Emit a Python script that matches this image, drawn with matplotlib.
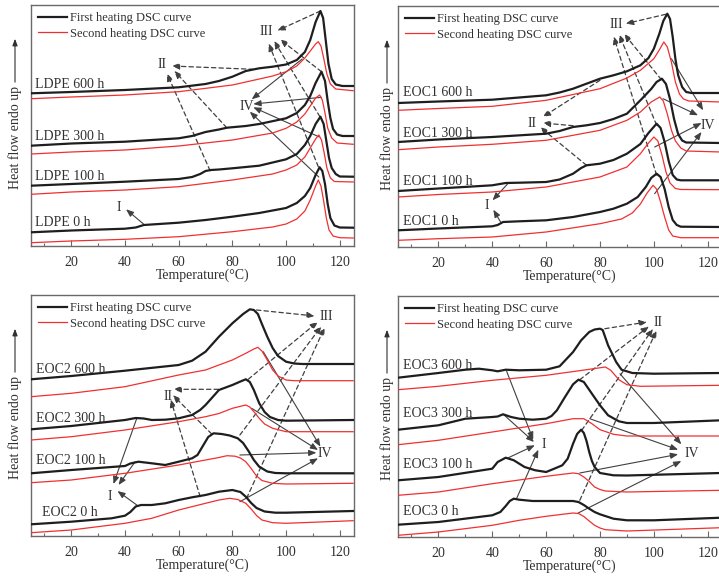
import matplotlib
matplotlib.use("Agg")
import matplotlib.pyplot as plt
from matplotlib.ticker import MultipleLocator

plt.rcParams['font.family'] = ['Liberation Serif', 'DejaVu Serif']

# ---------------- data (T in degC, heat flow in arbitrary units) ----------------
LDPE_0_FIRST = [(5,13.7),(20,15.5),(40,17.3),(44,18.5),(47,21),(60,23.3),(70,26),(80,29.3),(90,33),(100,38),(104,43),(107,50),(109,58),(111,71),(112.5,78.7),(113.5,75),(114.5,62),(115.5,42),(116.5,28),(118,20.5),(120,18.5),(125,18.3)]
LDPE_0_SECOND = [(5,3.3),(20,5),(40,6.7),(60,9.3),(80,14.3),(95,19),(100,22),(104,27),(107,35),(109,46),(111,60),(112,66),(113,60),(114,45),(115,28),(116,16),(117.5,10),(120,8.3),(125,8)]
LDPE_100_FIRST = [(5,60.3),(20,62),(40,64.3),(60,67),(65,69),(68,72),(70,75),(72,76),(75,76.5),(80,77.7),(90,80.3),(100,86.7),(104,92),(107,101),(109,110),(111,122),(112.8,129.3),(114,122),(115,105),(116,88),(117,78),(118.5,72),(120,69.5),(125,69.3)]
LDPE_100_SECOND = [(5,51.7),(20,54),(40,56),(60,59.3),(80,66),(95,72),(100,76),(104,81),(107,89),(109,98),(111,107),(112.2,111),(113.2,106),(114.2,93),(115.2,78),(116.5,68),(118,64.5),(125,64)]
LDPE_300_FIRST = [(5,100.3),(20,102.5),(40,104.3),(60,107.7),(65,110),(70,114),(75,116.5),(78,118.3),(85,120),(90,122),(100,127.7),(104,133),(107,141),(109,150),(111,163),(113.2,174.3),(114.5,165),(115.5,145),(116.5,128),(117.5,117),(119,111.5),(121,110),(125,110)]
LDPE_300_SECOND = [(5,92),(20,94),(40,96),(60,100),(80,106),(95,113),(100,117.7),(104,124),(107,132),(109,140),(111,148),(112.5,151),(113.5,146),(114.5,133),(115.5,118),(117,108),(119,103),(125,101.7)]
LDPE_600_FIRST = [(5,152.7),(20,154),(40,156),(60,158.7),(70,162),(75,165),(80,169.3),(85,175),(90,177.7),(95,179.3),(100,181.5),(104,186),(107,194),(109,206),(111,224),(112.8,235),(113.8,228),(114.8,205),(115.8,182),(117,167),(118.5,161.5),(121,160),(125,160)]
LDPE_600_SECOND = [(5,147.3),(20,149),(40,151),(60,154.3),(80,161),(95,170),(100,174.3),(104,180),(107,188),(109,195),(111,202),(112,204.3),(113,200),(114,188),(115.2,172),(116.5,162),(118.5,157),(125,155.3)]

EOC1_0_FIRST = [(5,16.7),(20,18.5),(40,20.7),(42,22),(44,25),(50,25.7),(60,26.7),(70,30),(80,35),(85,38.3),(90,43.3),(94,50),(97,60),(99,69),(101,73.3),(102.5,70),(104,58),(105.5,40),(107,27),(108.5,22),(110,20.3),(125,20)]
EOC1_0_SECOND = [(5,6.7),(20,8.3),(40,10),(60,15),(80,23.3),(88,28),(92,34),(95,43),(97.5,54),(99.7,61.7),(101,58),(102.5,45),(104,30),(105.5,17),(107,11),(110,9.3),(125,9.3)]
EOC1_100_FIRST = [(5,56),(20,58.5),(40,61.7),(45,64),(50,64.3),(60,65),(65,67.5),(70,73.3),(73,79),(75,81.7),(80,83.3),(85,87),(90,93.3),(95,103),(98,114),(101,123.3),(102.5,119),(104,105),(105.5,86),(107,72),(108.5,67.5),(110,66.7),(125,66.7)]
EOC1_100_SECOND = [(5,50),(20,52.5),(40,55),(60,60),(80,70),(90,80),(95,93.3),(98,104),(100,110),(101.5,106),(103,92),(104.5,75),(106,64),(108,58.5),(110,57.5),(125,57.3)]
EOC1_300_FIRST = [(5,105),(20,107.5),(40,110),(60,113.3),(65,116),(70,120),(75,121.7),(80,124),(85,128),(90,133.3),(95,146.7),(99,158),(101,165),(103,168.3),(104.5,163),(106,148),(107.5,128),(109,113),(110.5,106.5),(112,104.5),(125,104)]
EOC1_300_SECOND = [(5,97.3),(20,100),(40,102.7),(60,106.7),(80,116.7),(90,126.7),(95,135),(99,145),(102.2,150),(103.5,146),(105,133),(106.5,117),(108,106),(110,99),(112,96),(125,95)]
EOC1_600_FIRST = [(5,144),(20,145.5),(40,147.3),(60,151.7),(65,154.5),(70,158.3),(75,163.3),(80,168.3),(85,171.7),(90,175.7),(95,181.7),(98,189),(100,198.3),(102,213),(103.5,226),(105,233.3),(106,228),(107,210),(108,188),(109,172),(110.5,160),(112,155),(114,154),(125,154)]
EOC1_600_SECOND = [(5,136.7),(20,138.5),(40,140.7),(60,146.7),(80,158.3),(90,169),(95,176.7),(100,188.3),(102,197),(103.7,205),(105,200),(106.5,185),(108,165),(109.5,153),(111,148),(113,146),(125,145)]

EOC2_0_FIRST = [(5,11.7),(20,14.3),(35,17.7),(40,20.3),(42,24),(44,29.5),(46,31),(50,31),(55,32.7),(60,36),(65,38.7),(70,41),(75,44.3),(80,46),(83,44),(85,39.3),(87,33),(89,28),(92,24.5),(96,23.3),(100,23.3),(125,25)]
EOC2_0_SECOND = [(5,3.3),(20,6),(40,12.7),(50,17.7),(60,26),(70,32.7),(75,36),(79,37.7),(82,36.5),(85,32.7),(87,27),(89,20.5),(91,16),(95,13.3),(100,12.7),(125,15.3)]
EOC2_100_FIRST = [(5,62.7),(20,66),(40,70),(42,72.5),(45,74.3),(50,72.7),(55,71),(60,74.3),(65,77.7),(67,81),(69,90),(71,99),(73,102.7),(76,102),(79,100.5),(82,97.7),(84,93),(86,85),(88,76),(90,69.3),(93,64.5),(96,63),(100,62.7),(125,62.7)]
EOC2_100_SECOND = [(5,53.3),(20,56),(40,62.7),(60,71),(70,76),(75,78.5),(78,80.3),(81,79.8),(83,78),(85,74.3),(87,67.5),(89,60),(91,55.5),(95,52.7),(100,52),(125,52.7)]
EOC2_300_FIRST = [(5,106.7),(20,110),(40,116),(44,118),(47,117.5),(50,116),(55,116.3),(60,117.7),(65,121),(68,126),(70,131),(73,140),(75,146),(78,149),(80,151),(83,154.5),(85,156.7),(86.5,154),(88,146),(90,132.7),(92,124),(94,119),(97,116),(100,115.3),(125,116)]
EOC2_300_SECOND = [(5,96),(20,99.3),(40,106),(60,114.3),(70,119.3),(75,122.5),(80,127.7),(85,131),(86.5,129),(88,124.3),(90,117.7),(92,112),(95,107.7),(100,104.3),(125,104.3)]
EOC2_600_FIRST = [(5,156.7),(20,160),(40,165.3),(60,171),(65,175.3),(70,184.3),(75,199.3),(80,212.7),(84,222),(86.5,226.7),(88,226),(89.5,222),(91,212),(93,199.3),(95,188),(97,180),(100,174.3),(103,172.5),(106,172),(125,172)]
EOC2_600_SECOND = [(5,139.3),(20,142.7),(40,149.3),(60,161),(70,166),(80,176),(85,182.7),(88,187),(89.5,188.7),(91,185),(93,176),(95,166),(97,160),(100,156),(103,155.3),(125,155.3)]

EOC3_0_FIRST = [(5,12.3),(20,15),(40,21.7),(43,25),(45,31),(46.5,36),(48,38.3),(50,37.3),(55,36),(60,36),(65,36),(70,36),(72,35),(74,32),(76,28.3),(78,25),(80,22.7),(85,18.3),(90,16.7),(100,16.7),(125,19.3)]
EOC3_0_SECOND = [(5,1.7),(20,5),(40,11.7),(50,16.7),(60,20.7),(70,24),(72,23.5),(74,20.5),(76,16),(78,11.7),(80,9),(82,7.3),(90,6),(125,9.3)]
EOC3_100_FIRST = [(5,56.7),(20,60),(40,68.3),(42,75),(45,79.3),(48,76.7),(52,70),(56,66.7),(60,65),(63,68.3),(66,71.7),(68,78.3),(70,93.3),(71.5,103),(73,107.3),(74,104),(75,96),(76,85),(77,76),(78,70),(80,64),(85,61.7),(90,61.5),(125,64)]
EOC3_100_SECOND = [(5,41.7),(20,45),(40,53.3),(60,60.7),(70,64),(72,63.3),(74,60),(76,55.5),(78,50),(80,47.5),(82,46),(90,45),(125,46.7)]
EOC3_300_FIRST = [(5,107.3),(20,111.7),(30,118.3),(40,120),(42,120.5),(44,122.7),(47,120),(50,118.3),(55,117.3),(60,118.3),(62,121),(64,126.7),(67,140),(70,152.7),(72,157.3),(74,155),(77,143.3),(80,131.7),(83,121.7),(87,115.7),(90,114),(100,114),(125,116.7)]
EOC3_300_SECOND = [(5,92.3),(20,96.7),(40,105),(60,113.3),(70,118.3),(74,118.3),(77,113.3),(80,107.3),(85,102.7),(90,101),(125,101)]
EOC3_600_FIRST = [(5,159.3),(20,164),(30,167.3),(35,168.3),(40,166.7),(42,165.7),(45,167.3),(50,166.7),(60,167.3),(65,170.7),(70,185),(73,196.7),(76,205),(78,207.5),(80,208.3),(81,207),(83,191.7),(86,175),(88,167.3),(92,164),(100,163.3),(125,164)]
EOC3_600_SECOND = [(5,147.3),(20,150.7),(40,156.7),(60,161.7),(75,167.3),(82,170),(84,166.7),(87,157.3),(90,152.3),(95,150.7),(125,151.7)]

AGING_HOURS = ["0 h", "100 h", "300 h", "600 h"]
MATERIALS = ["LDPE", "EOC1", "EOC2", "EOC3"]
LEGEND_LABELS = ["First heating DSC curve", "Second heating DSC curve"]
X_TICKS = [20, 40, 60, 80, 100, 120]
X_LABEL = "Temperature(\u00b0C)"
Y_LABEL = "Heat flow endo up"

CURVES = {
    "LDPE": [(LDPE_0_FIRST, LDPE_0_SECOND), (LDPE_100_FIRST, LDPE_100_SECOND),
             (LDPE_300_FIRST, LDPE_300_SECOND), (LDPE_600_FIRST, LDPE_600_SECOND)],
    "EOC1": [(EOC1_0_FIRST, EOC1_0_SECOND), (EOC1_100_FIRST, EOC1_100_SECOND),
             (EOC1_300_FIRST, EOC1_300_SECOND), (EOC1_600_FIRST, EOC1_600_SECOND)],
    "EOC2": [(EOC2_0_FIRST, EOC2_0_SECOND), (EOC2_100_FIRST, EOC2_100_SECOND),
             (EOC2_300_FIRST, EOC2_300_SECOND), (EOC2_600_FIRST, EOC2_600_SECOND)],
    "EOC3": [(EOC3_0_FIRST, EOC3_0_SECOND), (EOC3_100_FIRST, EOC3_100_SECOND),
             (EOC3_300_FIRST, EOC3_300_SECOND), (EOC3_600_FIRST, EOC3_600_SECOND)],
}

# ---------------- layout / annotations ----------------
W, H = 719, 580
AX_PIX = {  # left, top, right, bottom in pixels
    "LDPE": (31, 5, 354, 246),
    "EOC1": (398, 6, 722, 247),
    "EOC2": (31, 295, 354, 536),
    "EOC3": (398, 296, 722, 537),
}
# baseline positions of the sample labels
SAMPLE_LABEL_POS = {
    "LDPE": [(6.5, 19.5), (6.5, 66), (6.5, 106), (6.5, 158.5)],
    "EOC1": [(6.9, 22), (6.9, 62), (6.9, 110), (6.9, 151)],
    "EOC2": [(9.0, 20), (6.9, 72), (6.9, 114), (6.9, 163)],
    "EOC3": [(7.0, 22), (7.0, 69), (7.0, 120), (7.0, 168)],
}
# (text, text position, list of (tail, head), dashed?)
ANNOTS = {
    "LDPE": [
        ("I", (37.6, 38.7), [((46.9, 22), (40.4, 36.7))], False),
        ("II", (53.7, 181), [((87.8, 176.7), (57.4, 180)), ((77.9, 118.3), (58.3, 175.3)),
                             ((71.7, 75.3), (55.6, 172.7))], True),
        ("III", (92.7, 214.3), [((112.8, 235), (96.7, 215.3)), ((113.2, 174.3), (97.7, 206.7)),
                                ((112.6, 129.3), (95.5, 205.3)), ((112.0, 79.3), (93.5, 202.7))], True),
        ("IV", (85.3, 140), [((106, 187), (87.2, 146.7)), ((113.2, 148.7), (87.8, 142)),
                             ((112.4, 109), (87.8, 138.7)), ((112.2, 69), (86.5, 134.3))], False),
    ],
    "EOC1": [
        ("I", (37.9, 41.7), [((46, 64), (40.1, 46.7)), ((43.1, 25), (40.4, 37.3))], False),
        ("II", (54.6, 123.3), [((80, 166.7), (58.7, 130)), ((70, 121.3), (58.7, 124)),
                               ((75, 81.7), (57.7, 120))], True),
        ("III", (86.1, 222.7), [((104.4, 232.7), (89.5, 223.3)), ((102.8, 167.3), (88.9, 213.3)),
                                ((101, 122), (87.1, 212.7)), ((101, 72), (85.1, 210.7))], True),
        ("IV", (120.1, 121.7), [((106.5, 188.3), (118.3, 136.7)), ((103.4, 148.3), (116.4, 131.7)),
                                ((100.3, 100), (117.7, 124)), ((100.3, 53.3), (117.7, 115))], False),
    ],
    "EOC2": [
        ("I", (34.5, 40), [((44.4, 117.7), (35.7, 52)), ((43.8, 74.3), (37.6, 51)),
                           ((44.4, 31), (37.2, 45))], False),
        ("II", (56.2, 139.3), [((74.8, 146.7), (58, 146.7)), ((72.3, 102), (57.8, 141)),
                               ((68, 39.3), (57, 136.7))], True),
        ("III", (115, 220), [((89, 226), (110.7, 220)), ((85.9, 156.7), (111.9, 214.3)),
                             ((82.8, 101), (113.2, 210)), ((85.3, 37.7), (114.4, 208.7))], True),
        ("IV", (114.4, 82.7), [((91.5, 184.3), (112.8, 89.3)), ((87.2, 127.7), (111.9, 86)),
                               ((82.8, 81), (111.3, 83.3)), ((82.8, 34.3), (111.9, 77.7))], False),
    ],
    "EOC3": [
        ("I", (59, 92.7), [((45.3, 166), (55.2, 97.3)), ((44.1, 122.7), (55.5, 95)),
                           ((46, 79.3), (55.8, 91.7)), ((49, 38.3), (57.1, 87.3))], False),
        ("II", (101.6, 215), [((81.8, 208.3), (97.5, 215)), ((72.5, 157.3), (98.2, 210.7)),
                              ((73.2, 106.7), (99.7, 208.3)), ((72.5, 36.7), (101, 206.7))], True),
        ("IV", (113.9, 83.3), [((87.4, 163.3), (110.2, 92.7)), ((76.2, 118.3), (109, 87.3)),
                               ((72.5, 64), (109, 82.7)), ((71.9, 24), (110.2, 76))], False),
    ],
}

BLACK = "#1e1e1e"
RED = "#f03030"
TXT = "#303030"
SPINE = "#6a6a6a"

fig = plt.figure(figsize=(W / 100, H / 100), dpi=100)

for mat in MATERIALS:
    l, t, r, b = AX_PIX[mat]
    aw, ah = r - l, b - t
    ax = fig.add_axes([l / W, (H - b) / H, aw / W, ah / H])
    ax.set_xlim(5, 125.3)
    ax.set_ylim(0, 241)
    for i, (first, second) in enumerate(CURVES[mat]):
        ax.plot([p[0] for p in second], [p[1] for p in second], color=RED, lw=0.9,
                label=LEGEND_LABELS[1] if i == 0 else None, zorder=3)
        ax.plot([p[0] for p in first], [p[1] for p in first], color=BLACK, lw=1.6,
                label=LEGEND_LABELS[0] if i == 0 else None, zorder=4)
        lx, ly = SAMPLE_LABEL_POS[mat][i]
        ax.text(lx, ly, f"{mat} {AGING_HOURS[i]}", fontsize=10, color=TXT,
                ha="left", va="baseline", zorder=5)
    for text, tpos, arrows, dashed in ANNOTS[mat]:
        ax.text(tpos[0], tpos[1], text, fontsize=10, color=TXT, ha="center", va="center", zorder=6)
        for tail, head in arrows:
            ax.annotate("", xy=head, xytext=tail,
                        arrowprops=dict(arrowstyle="-|>,head_length=0.45,head_width=0.18",
                                        color="#404040", lw=0.8 if not dashed else 0.9,
                                        linestyle=(0, (3.5, 2.5)) if dashed else "-",
                                        shrinkA=0, shrinkB=0), zorder=2)
    handles, labels = ax.get_legend_handles_labels()
    order = [labels.index(LEGEND_LABELS[0]), labels.index(LEGEND_LABELS[1])]
    leg = ax.legend([handles[k] for k in order], [labels[k] for k in order],
                    loc="upper left", bbox_to_anchor=(3.0 / aw, 1.0 - 2.7 / ah), frameon=False,
                    fontsize=9, handlelength=2.3, handletextpad=0.2,
                    labelspacing=0.3, borderaxespad=0.15, borderpad=0.2)
    for txt in leg.get_texts():
        txt.set_color(TXT)

    ax.set_yticks([])
    ax.xaxis.set_major_locator(MultipleLocator(20))
    ax.xaxis.set_minor_locator(MultipleLocator(10))
    ax.set_xticks(X_TICKS)
    ax.tick_params(axis="x", which="major", direction="in", length=4, width=0.8,
                   color=SPINE, labelsize=10, labelcolor=TXT, pad=7.5)
    ax.tick_params(axis="x", which="minor", direction="in", length=2.5, width=0.8, color=SPINE)
    for s in ax.spines.values():
        s.set_color(SPINE)
        s.set_linewidth(1.0)
    ax.set_xlabel(X_LABEL, fontsize=10, color=TXT, labelpad=1)
    ax.xaxis.set_label_coords(0.53, -0.095)

    # y label with upward arrow
    ylx = (15 if l < 200 else 387)
    xa = (ylx - l) / aw
    ax.text(xa, 0.45, Y_LABEL, rotation=90, fontsize=10, color=TXT,
            ha="center", va="center", transform=ax.transAxes, clip_on=False)
    ax.annotate("", xy=(xa, 0.86), xytext=(xa, 0.68), xycoords="axes fraction",
                textcoords="axes fraction", annotation_clip=False,
                arrowprops=dict(arrowstyle="-|>,head_length=0.4,head_width=0.15",
                                color=TXT, lw=0.8, shrinkA=0, shrinkB=0))

fig.savefig("out.png", dpi=100)
